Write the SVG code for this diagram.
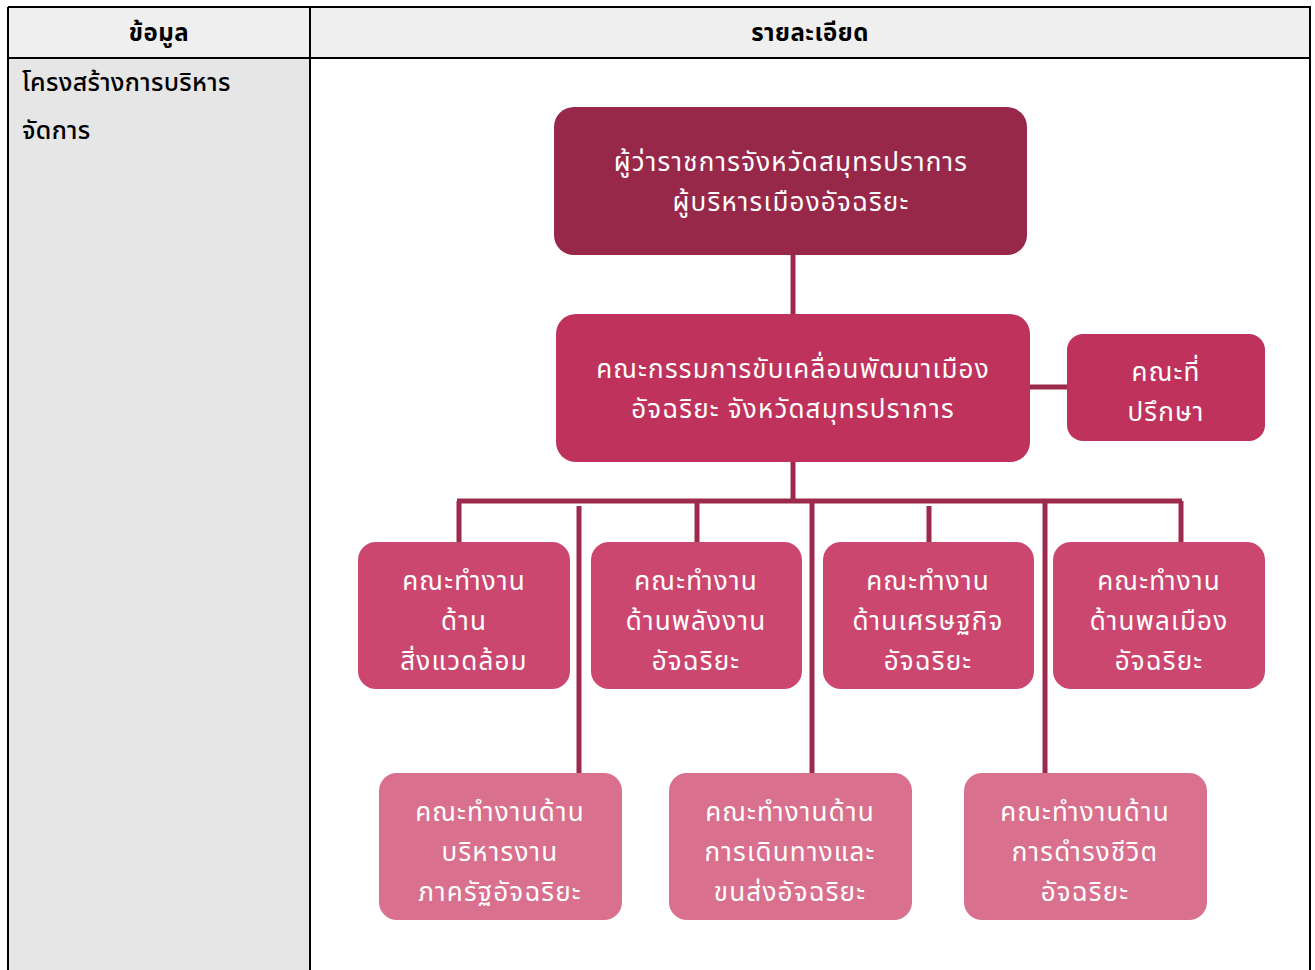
<svg xmlns="http://www.w3.org/2000/svg" width="1315" height="970" viewBox="0 0 1315 970">
<style>
text{font-family:"Noto Sans Thai","Noto Sans Thai UI","Noto Sans","DejaVu Sans",sans-serif;}
.hd{font-size:24px;font-weight:bold;fill:#000;text-anchor:middle;letter-spacing:0.5px}
.lt{font-size:25px;fill:#000;font-weight:500;letter-spacing:0.3px}
.nt{font-size:26px;fill:#fff;text-anchor:middle;letter-spacing:1.2px}
.c{stroke:#9b2a4d;stroke-width:5;fill:none}
.n0{fill:#98284a}
.n1{fill:#bf325b}
.n2{fill:#cc4770}
.n3{fill:#d8708e}
</style>
<g id="table">
<rect x="8" y="7" width="1302" height="970" fill="#fff"/>
<rect x="8" y="7" width="1302" height="51" fill="#efefef"/>
<rect x="8" y="58" width="302" height="920" fill="#e6e6e6"/>
<path d="M8 7H1310V975M8 7V975M310 7V975M8 58H1310" stroke="#000" stroke-width="2" fill="none"/>
<text class="hd" x="159" y="41">ข้อมูล</text>
<text class="hd" x="810" y="41">รายละเอียด</text>
<text class="lt" x="22" y="91">โครงสร้างการบริหาร</text>
<text class="lt" x="22" y="139">จัดการ</text>
</g>
<g id="connectors">
<path class="c" d="M793 255V315"/>
<path class="c" d="M1030 387H1067"/>
<path class="c" d="M793 462V501"/>
<path class="c" d="M457 501H1182"/>
<path class="c" d="M459 501V543M697 501V543M929 506V543M1181 501V543"/>
<path class="c" d="M579 506V774M812 501V774M1045 501V774"/>
</g>
<g id="governor">
<rect class="n0" x="554" y="107" width="473" height="148" rx="20"/>
<text class="nt" x="791" y="171">ผู้ว่าราชการจังหวัดสมุทรปราการ</text>
<text class="nt" x="791" y="211">ผู้บริหารเมืองอัจฉริยะ</text>
</g>
<g id="committee">
<rect class="n1" x="556" y="314" width="474" height="148" rx="20"/>
<text class="nt" x="793" y="378">คณะกรรมการขับเคลื่อนพัฒนาเมือง</text>
<text class="nt" x="793" y="418">อัจฉริยะ จังหวัดสมุทรปราการ</text>
</g>
<g id="advisor">
<rect class="n1" x="1067" y="334" width="198" height="107" rx="16"/>
<text class="nt" x="1166" y="381">คณะที่</text>
<text class="nt" x="1166" y="421">ปรึกษา</text>
</g>
<g id="wg-env">
<rect class="n2" x="358" y="542" width="212" height="147" rx="18"/>
<text class="nt" x="464" y="590">คณะทำงาน</text>
<text class="nt" x="464" y="630">ด้าน</text>
<text class="nt" x="464" y="670">สิ่งแวดล้อม</text>
</g>
<g id="wg-energy">
<rect class="n2" x="591" y="542" width="211" height="147" rx="18"/>
<text class="nt" x="696" y="590">คณะทำงาน</text>
<text class="nt" x="696" y="630">ด้านพลังงาน</text>
<text class="nt" x="696" y="670">อัจฉริยะ</text>
</g>
<g id="wg-economy">
<rect class="n2" x="823" y="542" width="211" height="147" rx="18"/>
<text class="nt" x="928" y="590">คณะทำงาน</text>
<text class="nt" x="928" y="630">ด้านเศรษฐกิจ</text>
<text class="nt" x="928" y="670">อัจฉริยะ</text>
</g>
<g id="wg-people">
<rect class="n2" x="1053" y="542" width="212" height="147" rx="18"/>
<text class="nt" x="1159" y="590">คณะทำงาน</text>
<text class="nt" x="1159" y="630">ด้านพลเมือง</text>
<text class="nt" x="1159" y="670">อัจฉริยะ</text>
</g>
<g id="wg-gov">
<rect class="n3" x="379" y="773" width="243" height="147" rx="18"/>
<text class="nt" x="500" y="821">คณะทำงานด้าน</text>
<text class="nt" x="500" y="861">บริหารงาน</text>
<text class="nt" x="500" y="901">ภาครัฐอัจฉริยะ</text>
</g>
<g id="wg-mobility">
<rect class="n3" x="669" y="773" width="243" height="147" rx="18"/>
<text class="nt" x="790" y="821">คณะทำงานด้าน</text>
<text class="nt" x="790" y="861">การเดินทางและ</text>
<text class="nt" x="790" y="901">ขนส่งอัจฉริยะ</text>
</g>
<g id="wg-living">
<rect class="n3" x="964" y="773" width="243" height="147" rx="18"/>
<text class="nt" x="1085" y="821">คณะทำงานด้าน</text>
<text class="nt" x="1085" y="861">การดำรงชีวิต</text>
<text class="nt" x="1085" y="901">อัจฉริยะ</text>
</g>
</svg>
